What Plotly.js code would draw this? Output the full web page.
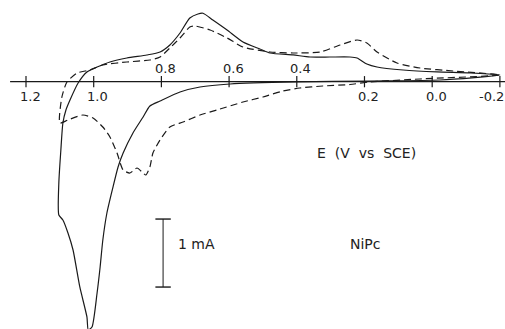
<!DOCTYPE html>
<html>
<head>
<meta charset="utf-8">
<script src="https://cdn.plot.ly/plotly-3.0.1.min.js"></script>
<style>
  html, body { margin: 0; padding: 0; background: #fff; }
  #plotArea { width: 505px; height: 329px; }
</style>
</head>
<body>
<div id="plotArea"></div>
<script>
// potential (V vs SCE) and current (mA), solid cycle
var solidE = [-0.20, -0.112, -0.014, 0.086, 0.163, 0.193, 0.222, 0.243, 0.302, 0.361, 0.411, 0.479, 0.509, 0.559, 0.606, 0.648, 0.677, 0.692, 0.716, 0.745, 0.775, 0.804, 0.843, 0.902, 0.952, 0.990, 1.020, 1.046, 1.070, 1.082, 1.091, 1.097, 1.103, 1.103, 1.091, 1.076, 1.061, 1.041, 1.020, 1.016, 1.005, 0.990, 0.981, 0.973, 0.961, 0.943, 0.928, 0.913, 0.884, 0.854, 0.834, 0.804, 0.745, 0.686, 0.597, 0.402, 0.184, -0.023, -0.20];
var solidI = [0.099, 0.128, 0.143, 0.172, 0.216, 0.260, 0.349, 0.363, 0.363, 0.363, 0.393, 0.422, 0.481, 0.584, 0.760, 0.907, 1.006, 0.996, 0.937, 0.716, 0.540, 0.437, 0.393, 0.349, 0.290, 0.216, 0.143, -0.019, -0.269, -0.416, -0.607, -1.004, -1.490, -1.960, -2.034, -2.225, -2.475, -3.019, -3.460, -3.650, -3.607, -3.107, -2.725, -2.328, -1.931, -1.549, -1.254, -1.049, -0.754, -0.519, -0.357, -0.284, -0.151, -0.078, -0.034, -0.004, 0.010, 0.025, 0.099];

// dashed cycle
var dashE = [-0.20, -0.062, 0.036, 0.104, 0.163, 0.193, 0.222, 0.272, 0.331, 0.411, 0.479, 0.559, 0.606, 0.656, 0.701, 0.716, 0.745, 0.775, 0.804, 0.834, 0.902, 0.973, 1.011, 1.049, 1.079, 1.094, 1.100, 1.076, 1.032, 1.002, 0.973, 0.952, 0.931, 0.913, 0.893, 0.872, 0.854, 0.846, 0.834, 0.825, 0.804, 0.775, 0.736, 0.686, 0.636, 0.559, 0.500, 0.441, 0.391, 0.323, 0.243, 0.184, 0.036, -0.20];
var dashI = [0.099, 0.157, 0.201, 0.275, 0.437, 0.569, 0.613, 0.540, 0.437, 0.422, 0.437, 0.510, 0.643, 0.760, 0.819, 0.804, 0.643, 0.496, 0.363, 0.319, 0.290, 0.246, 0.172, 0.128, -0.004, -0.225, -0.607, -0.563, -0.490, -0.534, -0.666, -0.813, -1.049, -1.299, -1.343, -1.269, -1.343, -1.372, -1.254, -1.049, -0.857, -0.666, -0.593, -0.490, -0.416, -0.299, -0.225, -0.137, -0.093, -0.063, -0.041, -0.004, 0.040, 0.099];

var tickVals = [1.2, 1.0, 0.8, 0.6, 0.4, 0.2, 0.0, -0.2];
var tickText = ["1.2", "1.0", "0.8", "0.6", "0.4", "0.2", "0.0", "-0.2"];
var tickAbove = [false, false, true, true, true, false, false, false];

// scale bar: 1 mA
var barE = 0.795;
var barI = [-2.02, -3.02];

var lineCol = "#1a1a1a";
var txtFont = {family: "DejaVu Sans", size: 13, color: "#222"};

var traces = [
  {x: solidE, y: solidI, mode: "lines", line: {color: lineCol, width: 1.2, shape: "spline", smoothing: 0.6}},
  {x: dashE, y: dashI, mode: "lines", line: {color: lineCol, width: 1.2, dash: "7px,4px", shape: "spline", smoothing: 0.6}},
  {x: tickVals, y: tickVals.map(function () { return 0; }), mode: "markers",
   marker: {symbol: "line-ns-open", size: 8, color: lineCol, line: {color: lineCol, width: 1.2}}},
  {x: [barE, barE], y: barI, mode: "lines+markers", line: {color: lineCol, width: 1},
   marker: {symbol: "line-ew-open", size: 11, color: lineCol, line: {color: lineCol, width: 1.4}}}
];

var annotations = tickVals.map(function (v, i) {
  var last = i === tickVals.length - 1;
  return {x: v, y: 0, xref: "x", yref: "y", text: tickText[i], showarrow: false,
          xanchor: last ? "right" : "center",
          xshift: last ? 6 : 4, yshift: tickAbove[i] ? 13 : -15, font: txtFont};
});
annotations.push({x: 418 / 505, y: 1 - 153 / 329, xref: "paper", yref: "paper", text: "E  (V  vs  SCE)",
                  showarrow: false, font: {family: "DejaVu Sans", size: 14, color: "#222"}});
annotations.push({x: 383 / 505, y: 1 - 254 / 329, xref: "paper", yref: "paper", text: "NiPc",
                  showarrow: false, font: {family: "DejaVu Sans", size: 14, color: "#222"}});
annotations.push({x: 196 / 505, y: 1 - 254 / 329, xref: "paper", yref: "paper", text: "1 mA",
                  showarrow: false, font: {family: "DejaVu Sans", size: 14, color: "#222"}});

var layout = {
  width: 505, height: 329,
  margin: {l: 0, r: 0, t: 0, b: 0},
  paper_bgcolor: "#fff", plot_bgcolor: "#fff",
  showlegend: false,
  xaxis: {range: [1.2768, -0.2151], visible: false},
  yaxis: {range: [-3.637, 1.2015], visible: false},
  shapes: [
    {type: "line", xref: "x", yref: "y", x0: 1.247, x1: -0.2151, y0: 0, y1: 0,
     line: {color: lineCol, width: 1.3}}
  ],
  annotations: annotations
};

Plotly.newPlot("plotArea", traces, layout, {staticPlot: true});
</script>
</body>
</html>
